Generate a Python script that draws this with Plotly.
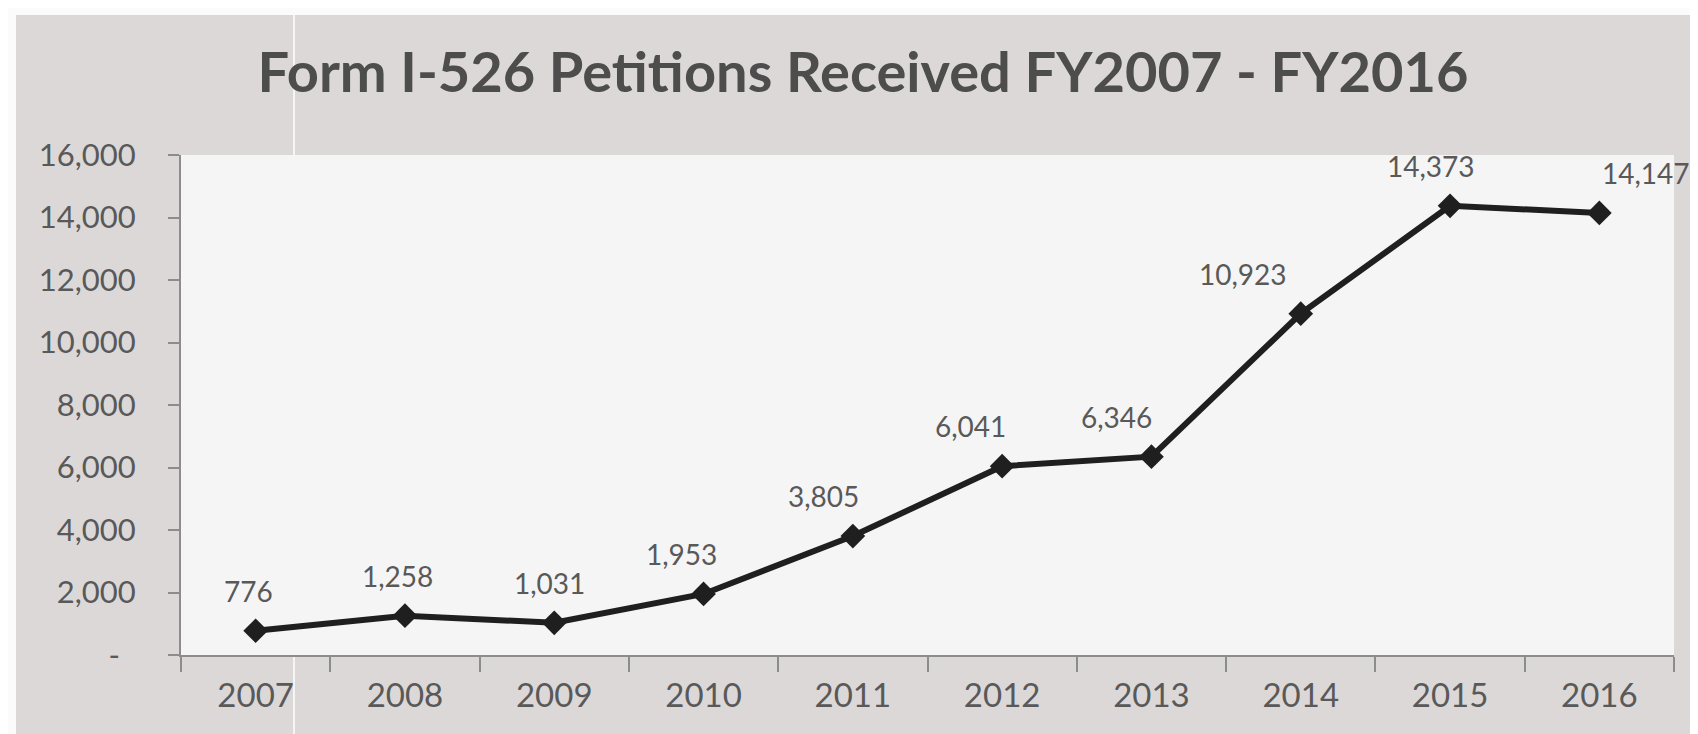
import plotly.graph_objects as go

# Form I-526 petitions received, FY2007 - FY2016
years = ["2007", "2008", "2009", "2010", "2011", "2012", "2013", "2014", "2015", "2016"]
petitions = [776, 1258, 1031, 1953, 3805, 6041, 6346, 10923, 14373, 14147]

y_ticks = [0, 2000, 4000, 6000, 8000, 10000, 12000, 14000, 16000]
y_ticktext = ["-\u00a0\u00a0"] + [f"{v:,}" for v in y_ticks[1:]]

# horizontal nudge (px) of each data label, as placed in the original
label_dx = [-7, -7, -5, -22, -29, -32, -35, -58, -19, 47]

W, H = 1698, 734
L, R, T, B = 173, 32, 147, 87
PW, PH = W - L - R, H - T - B

FONT = "Lato"
TXT = "#595959"


def px_x(px):
    return (px - L) / PW


def px_y(py):
    return (H - B - py) / PH


fig = go.Figure()

fig.add_trace(go.Scatter(
    x=years,
    y=petitions,
    mode="lines+markers",
    line=dict(color="#1f1f1f", width=6),
    marker=dict(symbol="diamond", size=19, color="#1f1f1f"),
    hoverinfo="x+y",
    showlegend=False,
))

# category axis: annotations take the category index
for i, (val, dx) in enumerate(zip(petitions, label_dx)):
    fig.add_annotation(
        x=i, y=val, xref="x", yref="y", text=f"{val:,}", showarrow=False,
        xanchor="center", yanchor="bottom", xshift=dx, yshift=21,
        font=dict(family=FONT, size=28, color=TXT),
    )

# white scan margins and the faint vertical streak of the original
shapes = [
    dict(type="rect", xref="paper", yref="paper", x0=px_x(0), x1=px_x(W),
         y0=px_y(7), y1=px_y(0), fillcolor="#fbfbfb", line_width=0, layer="below"),
    dict(type="rect", xref="paper", yref="paper", x0=px_x(0), x1=px_x(8),
         y0=px_y(H), y1=px_y(0), fillcolor="#fbfbfb", line_width=0, layer="below"),
    dict(type="line", xref="paper", yref="paper", x0=px_x(286), x1=px_x(286),
         y0=px_y(H), y1=px_y(7), line=dict(color="#f6f4f4", width=2), layer="below"),
]

fig.update_layout(
    width=W, height=H,
    margin=dict(l=L, r=R, t=T, b=B),
    paper_bgcolor="#dcd8d8",
    plot_bgcolor="#f5f5f5",
    shapes=shapes,
    title=dict(
        text="Form I-526 Petitions Received FY2007 - FY2016",
        x=855 / W, xref="container", xanchor="center",
        y=1 - 64 / H, yref="container", yanchor="middle",
        font=dict(family=FONT, size=56, color="#4d4d4d", weight=700),
    ),
    xaxis=dict(
        type="category", range=[-0.5, 9.5],
        showgrid=False, zeroline=False,
        showline=True, linecolor="#8c8c8c", linewidth=2,
        ticks="outside", tickson="boundaries", ticklen=15, tickwidth=2, tickcolor="#8c8c8c",
        ticklabelstandoff=10,
        tickfont=dict(family=FONT, size=33, color=TXT),
    ),
    yaxis=dict(
        range=[0, 16000],
        tickvals=y_ticks, ticktext=y_ticktext,
        showgrid=False, zeroline=False,
        showline=True, linecolor="#8c8c8c", linewidth=2,
        ticks="outside", ticklen=11, tickwidth=2, tickcolor="#8c8c8c",
        ticklabelstandoff=26,
        tickfont=dict(family=FONT, size=31, color=TXT),
    ),
)

fig.write_html("out.html")
